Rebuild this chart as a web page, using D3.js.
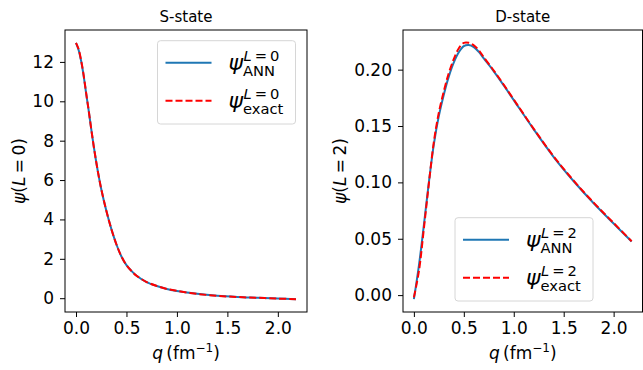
<!DOCTYPE html>
<html>
<head>
<meta charset="utf-8">
<script src="https://cdn.jsdelivr.net/npm/d3@7"></script>
<style>
  body { margin: 0; background: #fff; }
  svg { font-family: "DejaVu Sans", sans-serif; }
</style>
</head>
<body>
<svg id="chart" width="643" height="370"></svg>
<script>
// S-state (L = 0) wave function
const qS = [0, 0.025, 0.05, 0.075, 0.1, 0.125, 0.15, 0.175, 0.2, 0.225, 0.25, 0.3, 0.35, 0.4, 0.45, 0.5, 0.55, 0.6, 0.7, 0.8, 0.9, 1.0, 1.2, 1.4, 1.6, 1.8, 2.0, 2.18];
const annS = [12.97, 12.62, 12.07, 11.32, 10.42, 9.55, 8.63, 7.74, 6.93, 6.2, 5.55, 4.45, 3.52, 2.74, 2.12, 1.68, 1.38, 1.14, 0.82, 0.62, 0.47, 0.37, 0.22, 0.12, 0.06, 0.02, -0.02, -0.05];
const exactS = [12.97, 12.66, 12.1, 11.35, 10.44, 9.56, 8.63, 7.74, 6.93, 6.2, 5.55, 4.45, 3.52, 2.74, 2.12, 1.68, 1.38, 1.14, 0.82, 0.62, 0.47, 0.37, 0.22, 0.12, 0.06, 0.02, -0.02, -0.05];

// D-state (L = 2)
const qD = [0, 0.05, 0.1, 0.15, 0.2, 0.25, 0.3, 0.35, 0.4, 0.45, 0.5, 0.55, 0.6, 0.65, 0.7, 0.8, 0.9, 1.0, 1.2, 1.4, 1.6, 1.8, 2.0, 2.18];
const annD = [-0.0036, 0.026, 0.062, 0.100, 0.134, 0.159, 0.178, 0.194, 0.2065, 0.2155, 0.2208, 0.2218, 0.2200, 0.2158, 0.2100, 0.1985, 0.1860, 0.1730, 0.1470, 0.1225, 0.1010, 0.0815, 0.0635, 0.0475];
const exactD = [-0.002, 0.021, 0.059, 0.099, 0.136, 0.162, 0.181, 0.197, 0.2095, 0.219, 0.2238, 0.2238, 0.2215, 0.2172, 0.2110, 0.1992, 0.1866, 0.1735, 0.1475, 0.1230, 0.1015, 0.0820, 0.0640, 0.0478];

const xTicks = [0, 0.5, 1.0, 1.5, 2.0];
const yTicksS = [0, 2, 4, 6, 8, 10, 12];
const yTicksD = [0, 0.05, 0.10, 0.15, 0.20];

const svg = d3.select("#chart");

function drawPanel(o){
    const g = svg.append("g");
    const {left, right, top, bottom} = o.box;

    // matplotlib style 5% margins around the data
    const pad = (ext) => { const d = (ext[1] - ext[0]) * 0.05; return [ext[0] - d, ext[1] + d]; };
    const x = d3.scaleLinear().domain(pad(d3.extent(o.q))).range([left, right]);
    const y = d3.scaleLinear().domain(pad(d3.extent(o.ann.concat(o.exact)))).range([bottom, top]);

    // x axis
    const xa = g.append("g").attr("transform", `translate(0,${bottom})`)
        .call(d3.axisBottom(x).tickValues(xTicks).tickFormat(d3.format(".1f")).tickSize(5).tickPadding(5));
    // y axis
    const ya = g.append("g").attr("transform", `translate(${left},0)`)
        .call(d3.axisLeft(y).tickValues(o.yTicks).tickFormat(o.yFmt).tickSize(5).tickPadding(6));
    [xa, ya].forEach(a => {
        a.select(".domain").remove();
        a.selectAll("line").attr("stroke", "#000").attr("stroke-width", 1);
        a.selectAll("text").attr("font-size", 17).attr("fill", "#000").attr("font-family", "DejaVu Sans");
    });

    const line = (vals) => d3.line()
        .x((d, i) => x(o.q[i]))
        .y(d => y(d))
        .curve(d3.curveCatmullRom.alpha(0.5))(vals);

    g.append("path").attr("d", line(o.ann))
        .attr("fill", "none").attr("stroke", "#1f77b4").attr("stroke-width", 2);
    g.append("path").attr("d", line(o.exact))
        .attr("fill", "none").attr("stroke", "#ff0000").attr("stroke-width", 2)
        .attr("stroke-dasharray", "7,3");

    // frame
    g.append("rect").attr("x", left).attr("y", top)
        .attr("width", right - left).attr("height", bottom - top)
        .attr("fill", "none").attr("stroke", "#000").attr("stroke-width", 1);

    // title
    g.append("text").attr("x", (left + right) / 2).attr("y", 22)
        .attr("text-anchor", "middle").attr("font-size", 15).text(o.title);

    // x label: q (fm^-1)
    const xl = g.append("text").attr("x", (left + right) / 2).attr("y", 359)
        .attr("text-anchor", "middle").attr("font-size", 17);
    xl.append("tspan").attr("font-style", "italic").text("q");
    xl.append("tspan").text("\u2009(fm");
    xl.append("tspan").attr("font-size", 12).attr("dy", -7).text("\u22121");
    xl.append("tspan").attr("dy", 7).text(")");

    // y label: psi(L = n)
    const yl = g.append("text")
        .attr("transform", `translate(${o.yLabelX},${(top + bottom) / 2}) rotate(-90)`)
        .attr("text-anchor", "middle").attr("font-size", 17);
    yl.append("tspan").attr("font-style", "italic").text("\u03c8");
    yl.append("tspan").text("(");
    yl.append("tspan").attr("font-style", "italic").text("L");
    yl.append("tspan").text("\u2009=\u2009" + o.L + ")");

    // legend
    const lg = o.legend;
    g.append("rect").attr("x", lg.x).attr("y", lg.y).attr("width", 138).attr("height", 83.3)
        .attr("rx", 3).attr("fill", "#fff").attr("fill-opacity", 0.8)
        .attr("stroke", "#d6d6d6").attr("stroke-width", 1);
    const entries = [
        {sub: "ANN", color: "#1f77b4", dash: null, dy: 22},
        {sub: "exact", color: "#ff0000", dash: "7,3", dy: 60}
    ];
    entries.forEach(e => {
        const ly = lg.y + e.dy;
        g.append("line").attr("x1", lg.x + 8).attr("x2", lg.x + 54).attr("y1", ly).attr("y2", ly)
            .attr("stroke", e.color).attr("stroke-width", 2).attr("stroke-dasharray", e.dash);
        const psi = g.append("text").attr("x", lg.x + 71).attr("y", ly + 7.5)
            .attr("font-size", 22).attr("font-style", "italic").text("\u03c8");
        const w = psi.node().getComputedTextLength();
        const sup = g.append("text").attr("x", lg.x + 71 + w + 0.5).attr("y", ly - 1.5)
            .attr("font-size", 14.7);
        sup.append("tspan").attr("font-style", "italic").text("L");
        sup.append("tspan").text("\u2009=\u2009" + o.L);
        g.append("text").attr("x", lg.x + 71 + w).attr("y", ly + 13)
            .attr("font-size", 14.7).text(e.sub);
    });
}

drawPanel({
    box: {left: 65, right: 307, top: 30, bottom: 312},
    q: qS, ann: annS, exact: exactS,
    yTicks: yTicksS, yFmt: d3.format("d"),
    title: "S-state", L: 0, yLabelX: 25,
    legend: {x: 157.5, y: 40.7}
});

drawPanel({
    box: {left: 403, right: 642.5, top: 30, bottom: 312},
    q: qD, ann: annD, exact: exactD,
    yTicks: yTicksD, yFmt: d3.format(".2f"),
    title: "D-state", L: 2, yLabelX: 346,
    legend: {x: 455, y: 217.7}
});
</script>
</body>
</html>
